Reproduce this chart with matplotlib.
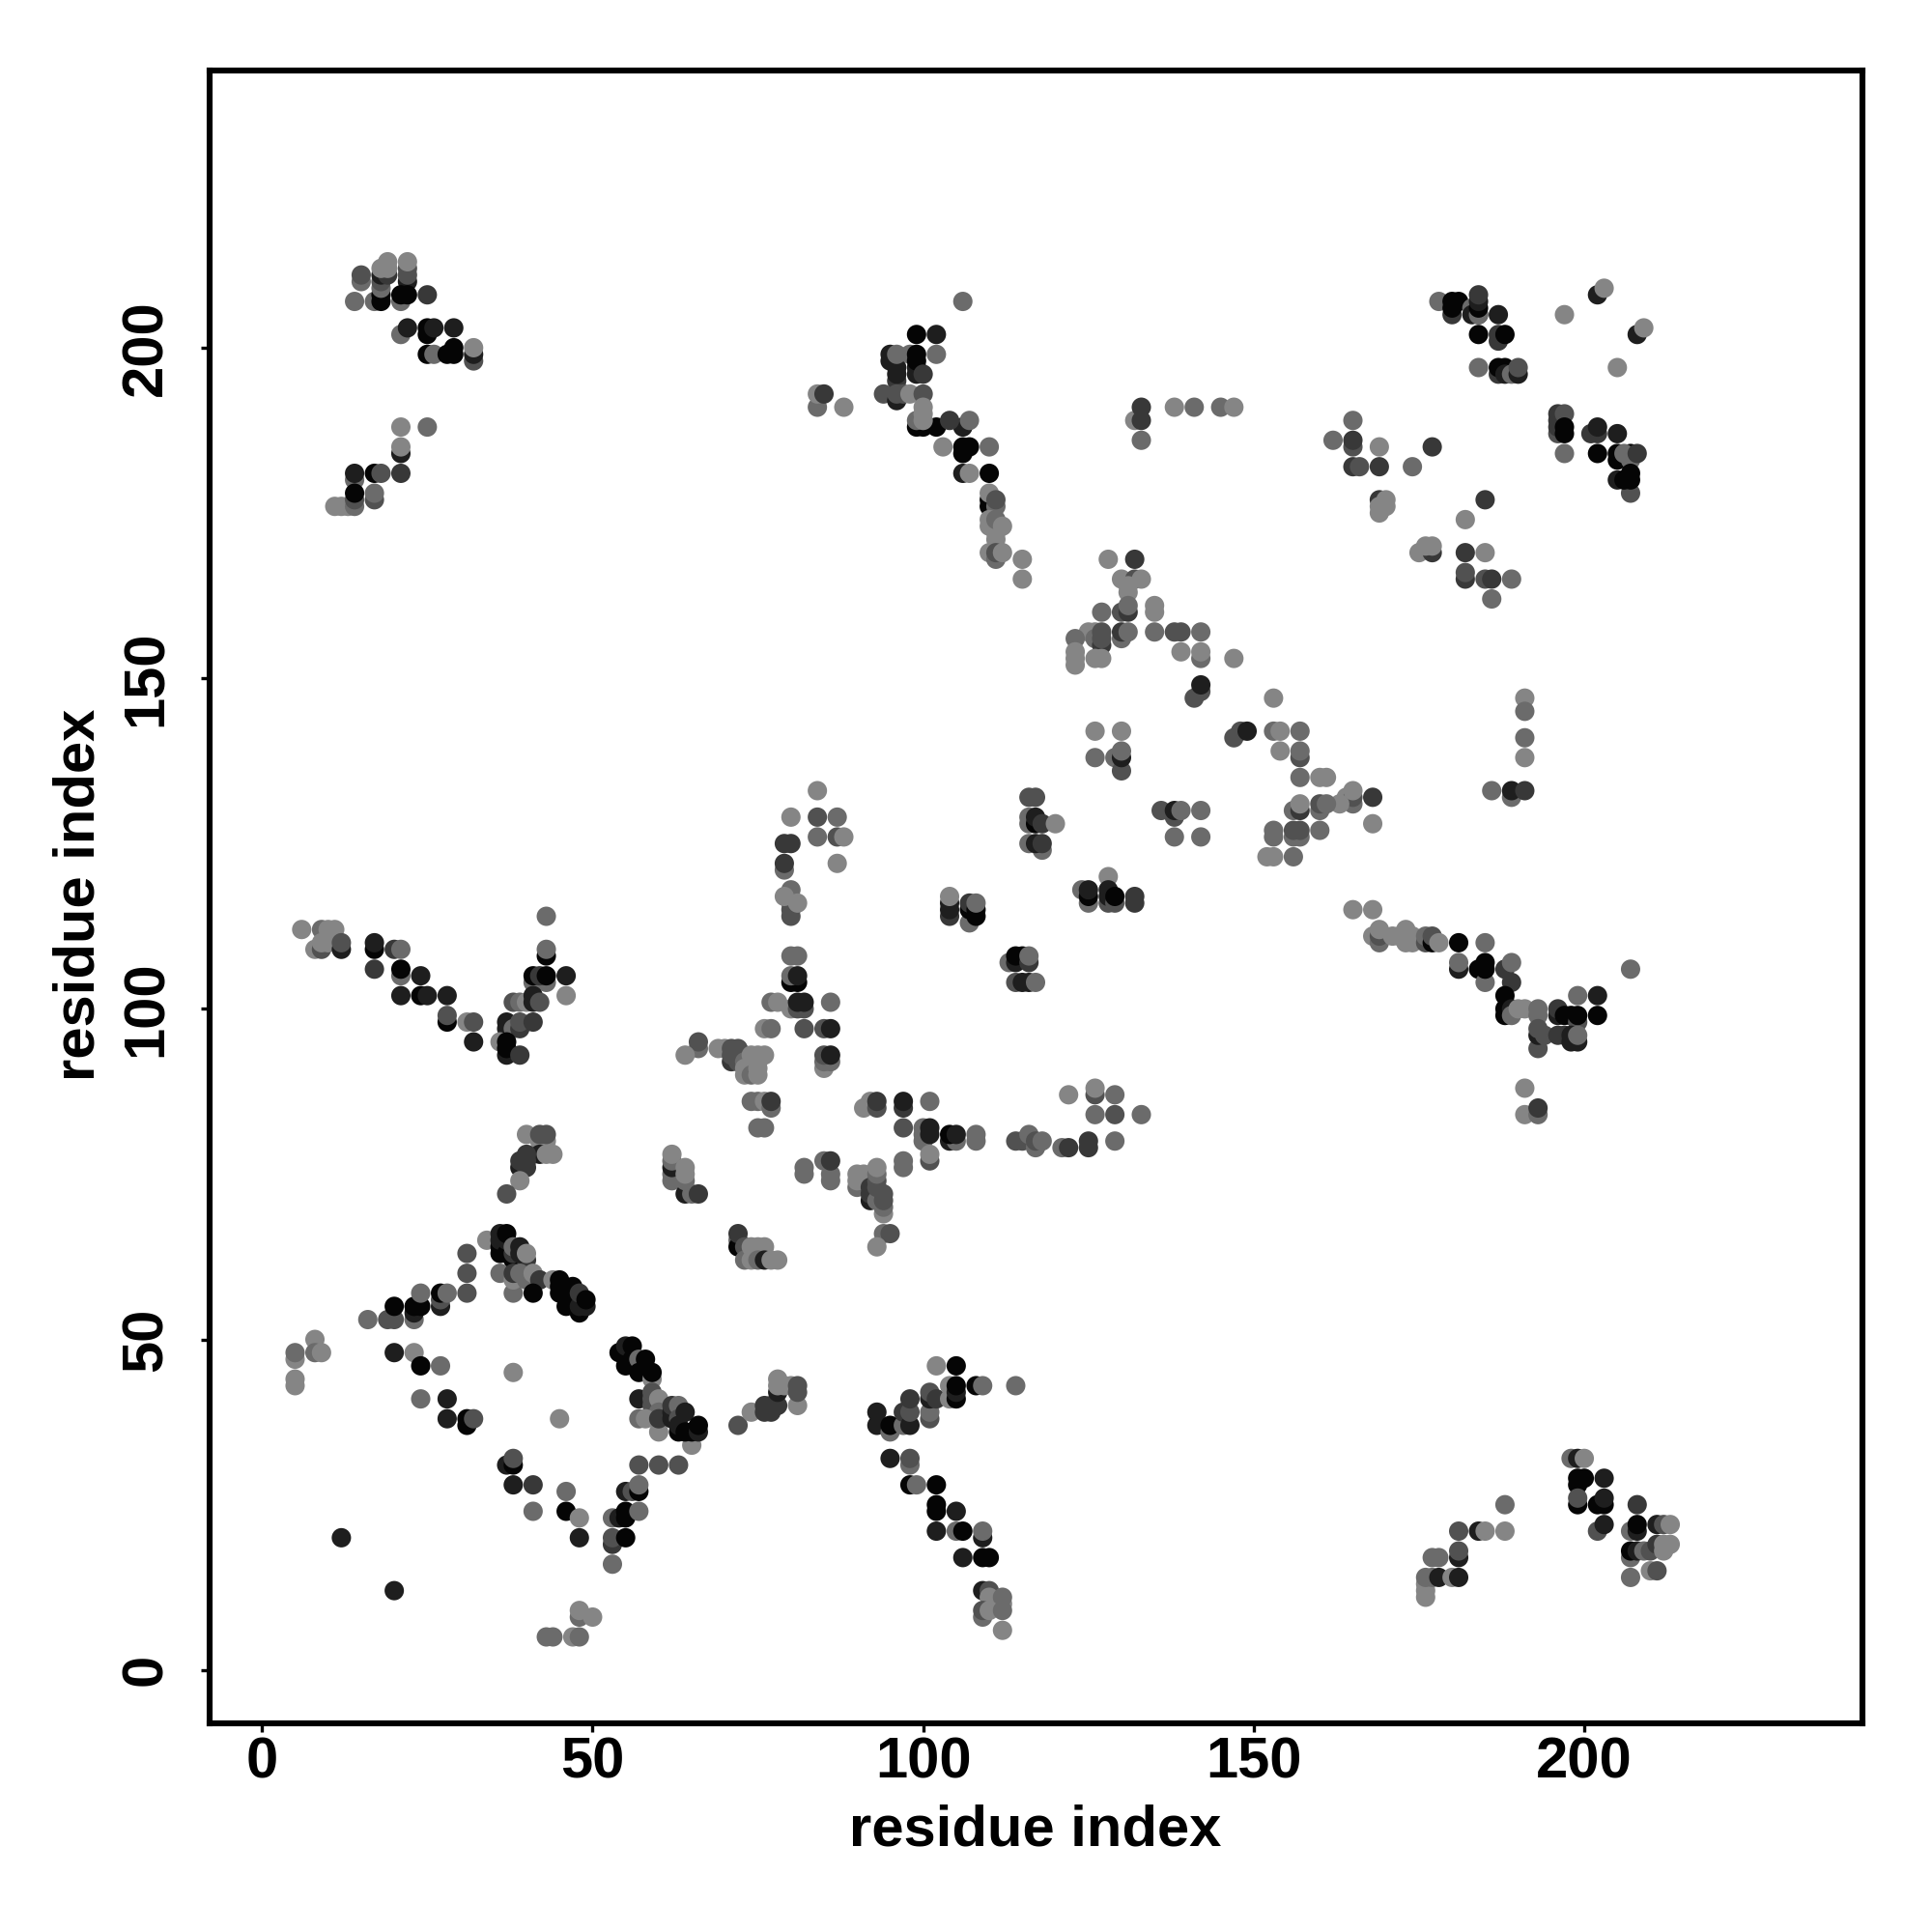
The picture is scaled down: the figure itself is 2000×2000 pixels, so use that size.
import matplotlib
matplotlib.use("Agg")
import matplotlib.pyplot as plt
from matplotlib.colors import Normalize

plt.rcParams['font.family'] = ['Liberation Sans', 'DejaVu Sans']

# each contact: (residue i, residue j, score level 0 = strongest ... 5 = weakest)
top_left = [(15,210,4),(15,211,3),(14,207,4),(17,207,4),(18,207,0),(18,208,0),(18,209,4),(18,210,3),(18,211,1),
 (19,211,2),(18,212,5),(19,212,5),(19,213,5),(22,210,1),(22,211,3),(22,212,3),(22,213,5),(21,207,4),(21,208,0),(22,208,0),(25,208,2),
 (21,202,4),(22,203,1),(25,202,0),(25,203,0),(26,203,1),(29,203,1),(25,199,0),(26,199,4),(28,199,0),(29,199,0),(29,200,0),
 (32,198,3),(32,199,1),(32,200,5),(21,188,5),(25,188,4),(21,184,1),(21,185,5),(14,180,4),(14,181,1),(17,181,0),(18,181,3),(21,181,2),
 (11,176,5),(12,176,5),(13,176,5),(14,176,4),(14,177,3),(14,178,0),(17,177,3),(17,178,4)]

top_mid = [(84,191,4),(84,193,5),(85,193,2),(88,191,5),(106,207,4),(99,202,0),(102,202,1),(102,199,4),
 (95,198,1),(95,199,1),(96,195,2),(96,196,1),(96,197,1),(96,199,4),(98,199,4),(99,196,1),(99,197,1),(99,198,0),(99,199,0),(100,196,2),
 (94,193,3),(96,192,1),(96,193,3),(97,193,3),(98,193,5),(100,193,3),(99,188,0),(100,188,0),(102,188,0),(99,189,4),(100,189,5),(100,190,5),(100,191,5),
 (106,188,1),(104,189,2),(107,189,4),(103,185,5),(106,184,0),(106,185,0),(107,185,0),(110,185,4),(106,181,1),(107,181,5),(110,181,0),
 (110,176,0),(110,177,0),(110,178,5),(111,176,4),(111,177,3),(110,173,5),(110,174,5),(111,171,5),(111,172,5),(111,173,5),(111,174,4),(112,173,5),
 (110,169,5),(111,168,4),(111,169,3),(112,169,5),(115,168,5),(115,165,5)]

top_center = [(132,189,5),(133,189,2),(133,191,2),(133,186,4),(138,191,5),(141,191,4),(145,191,4),(147,191,5),
 (128,168,5),(132,168,2),(130,165,5),(132,165,3),(131,164,5),(131,163,5),(133,165,5),(127,160,4),(130,160,3),(131,160,2),(131,161,4),(135,160,5),(135,161,5),
 (125,157,5),(126,157,5),(126,156,4),(127,155,2),(127,156,3),(127,157,3),(130,156,4),(130,157,2),(131,157,4),(135,157,4),(138,157,3),(139,157,3),(142,157,4),
 (123,156,4),(123,152,5),(123,153,5),(123,154,5),(126,153,5),(127,153,5),(139,154,5),(142,153,4),(142,154,5),(147,153,5),(141,147,3),(142,148,3),(142,149,1)]

mid_right = [(153,147,5),(147,141,3),(148,142,3),(149,142,1),(153,142,4),(154,142,5),(157,142,4),(154,139,5),(157,138,3),(157,139,4),
 (157,135,4),(160,135,5),(161,135,5),(164,132,5),(165,131,4),(165,132,3),(165,133,5),(168,132,2),(163,131,5),
 (156,130,4),(157,130,2),(157,131,5),(160,130,4),(160,131,3),(161,131,4),(168,128,5),(160,127,4),
 (156,126,4),(157,126,4),(156,127,3),(157,127,3),(153,126,4),(153,127,4),(152,123,5),(153,123,5),(156,123,4),
 (126,142,5),(130,142,5),(126,138,4),(129,138,4),(130,136,3),(130,138,1),(130,139,4),
 (191,147,5),(191,145,4),(191,141,4),(191,138,5),(186,133,4),(189,132,4),(189,133,1),(191,133,2),
 (136,130,3),(138,129,3),(138,130,1),(139,130,4),(142,130,4),(138,126,4),(142,126,4)]

mid_helix = [(124,118,4),(125,116,4),(125,117,0),(125,118,1),(128,120,5),(128,116,3),(128,117,1),(128,118,1),(129,116,3),(129,117,0),(132,116,2),(132,117,2),
 (116,132,3),(117,132,3),(116,128,4),(116,129,4),(117,128,0),(117,129,1),(118,128,2),(120,128,5),(118,124,4),(116,125,4),(117,125,1),(118,125,2),
 (113,107,4),(114,107,1),(114,108,0),(115,108,0),(116,107,2),(116,108,4),(114,104,3),(115,104,1),(116,104,1),(117,104,4),
 (104,114,2),(104,115,1),(104,116,1),(104,117,5),(107,113,4),(107,115,0),(107,116,2),(108,114,0),(108,115,0),(108,116,4)]

upper_right = [(178,207,4),(180,205,2),(180,206,0),(180,207,0),(181,207,0),(183,206,4),(183,205,1),(184,205,1),(184,205,4),(184,206,0),(184,207,1),(184,208,2),(187,205,1),
 (184,202,0),(187,201,2),(187,202,2),(188,202,0),(184,197,4),(187,196,2),(187,197,0),(188,197,0),(188,196,1),(189,196,4),(190,196,1),(190,197,3),
 (202,208,1),(203,209,5),(197,205,5),(208,202,1),(209,203,5),(205,197,5),(196,187,3),(196,188,2),(196,189,2),(196,190,2),(197,190,3),(197,187,0),(197,188,0),(197,184,4),
 (201,187,2),(202,187,2),(202,188,1),(205,187,1),(202,184,0),(205,183,0),(205,184,0),(207,184,0),(207,183,4),(206,184,4),(208,184,2),
 (207,178,3),(205,180,1),(206,180,0),(207,180,0),(207,181,0)]

upper_side = [(165,189,4),(162,186,4),(165,185,3),(165,186,2),(169,185,5),(177,185,2),(165,182,2),(166,182,3),(169,182,2),(174,182,4),
 (169,175,5),(169,177,2),(169,176,5),(170,176,5),(170,177,5),(185,177,2),(182,174,5),(175,169,5),(177,169,2),(176,170,5),(177,170,5),(182,169,2),(185,169,5),
 (182,165,2),(182,166,3),(185,165,3),(186,165,2),(189,165,4),(186,162,4)]

left_arm = [(6,112,5),(9,112,4),(10,112,5),(11,112,5),(8,109,5),(9,109,3),(9,110,5),(10,110,5),(12,109,1),(12,110,3),(17,109,0),(17,110,1),(20,109,2),(21,109,4),
 (17,106,2),(21,105,4),(21,106,0),(24,105,1),(21,102,1),(24,102,0),(25,102,1),(28,102,1),(28,98,0),(28,99,3),(31,98,5),(32,98,3),(32,95,1),
 (43,114,4),(43,108,0),(43,109,4),(41,104,4),(43,104,4),(41,105,0),(42,105,2),(43,105,0),(46,105,1),(46,102,5),
 (38,101,3),(39,101,4),(40,101,5),(41,102,1),(41,101,1),(42,101,3),(37,97,1),(37,98,1),(38,97,4),(39,97,2),(39,98,3),(41,98,2),
 (36,95,5),(37,93,1),(37,94,0),(37,95,0),(39,93,2)]

left_low = [(40,81,5),(42,80,5),(43,80,5),(42,81,3),(43,81,3),(42,78,1),(43,78,5),(44,78,5),(39,76,1),(40,76,2),(39,77,2),(40,77,2),(40,78,2),(39,74,5),(37,72,3),
 (62,74,4),(62,75,4),(62,76,1),(62,77,4),(62,78,5),(64,72,1),(64,74,4),(64,75,5),(64,76,5),(65,72,4),(66,72,2)]

mid_left = [(84,133,5),(80,129,5),(84,129,3),(87,129,4),(84,126,4),(87,126,3),(88,126,5),(87,122,5),(79,125,2),(80,125,2),(79,121,4),(79,122,2),
 (80,114,3),(80,115,3),(80,116,3),(80,118,4),(79,117,5),(81,116,5),(80,108,4),(81,108,4),(80,104,0),(81,104,0),(80,105,4),(81,105,1),
 (77,101,4),(78,101,5),(80,100,5),(81,100,3),(82,100,3),(81,101,1),(82,101,1),(86,101,4),(76,97,5),(77,97,4),(82,97,3),(85,97,3),(86,97,1),
 (66,94,4),(66,95,3),(64,93,5),(69,94,5),(70,94,5),(71,92,2),(72,92,3),(71,93,3),(71,94,3),(72,93,3),(72,94,3),(73,93,3),(73,92,4),(73,91,5),(73,90,5),
 (74,90,4),(74,93,5),(75,90,5),(75,91,5),(75,92,5),(75,93,5),(76,93,5),(85,91,5),(85,92,4),(86,92,4),(85,93,3),(86,93,1),
 (74,86,4),(75,86,4),(76,86,5),(77,85,4),(77,86,2),(75,82,4),(76,82,4)]

mid_center = [(91,85,5),(92,86,5),(93,85,3),(93,86,2),(97,85,2),(97,86,1),(101,86,4),(97,82,3),(100,80,4),(100,81,4),(100,82,4),(101,81,1),(101,82,1),
 (104,80,1),(105,80,4),(104,81,0),(105,81,1),(108,80,4),(108,81,4),(101,77,3),(101,78,5),(97,76,4),(97,77,4),
 (114,80,3),(115,80,3),(117,79,4),(116,81,4),(117,80,3),(118,80,4),(121,79,4),(122,79,2),(125,79,2),(125,80,2),(129,80,4),
 (122,87,5),(126,87,3),(126,88,5),(126,84,4),(129,87,4),(129,84,3),(133,84,4),
 (82,75,4),(82,76,4),(85,77,4),(86,74,4),(86,75,4),(86,77,2),(90,73,4),(90,74,5),(90,75,5),(91,74,5),(91,75,5),
 (92,71,1),(92,72,2),(92,73,2),(93,71,4),(93,73,3),(93,74,3),(93,75,4),(93,76,5),(94,69,5),(94,70,4),(94,71,3),(94,72,3),(94,66,4),(95,66,3),(93,64,5)]

right_arm = [(165,115,5),(168,115,5),(168,111,5),(169,110,4),(169,111,3),(169,112,5),(171,111,5),(172,111,5),(173,110,5),(173,111,5),(173,112,5),(174,110,5),(174,111,5),
 (176,110,3),(176,111,4),(177,110,0),(177,111,3),(178,110,5),(181,110,0),(185,110,4),(181,106,1),(181,107,4),(184,106,0),(185,104,4),(185,106,0),(185,107,0),
 (188,106,2),(189,107,4),(189,104,2),(188,102,0),(188,99,0),(188,100,0),(189,100,1),(189,99,4),(190,100,5),(191,100,5),(193,99,4),(193,100,4),
 (196,99,1),(196,100,2),(197,99,0),(198,99,0),(199,98,3),(199,99,0),(202,99,0),(202,102,1),(199,102,4),
 (193,94,3),(193,96,1),(193,97,3),(194,96,3),(196,96,2),(197,96,2),(198,95,1),(198,96,1),(199,95,1),(199,96,4),(207,106,4),(191,88,5),(191,84,5),(193,84,4),(193,85,2)]

ring_upper = [(16,53,4),(19,53,3),(20,53,3),(20,55,0),(23,53,4),(23,54,1),(23,55,0),(24,55,0),(24,57,4),(27,55,1),(27,56,3),(27,57,0),(28,57,4),(31,57,3),(31,60,3),(31,63,3),(34,65,5),
 (36,63,0),(36,64,0),(36,65,1),(36,66,1),(37,63,0),(37,65,1),(37,66,0),(38,62,0),(39,62,0),(40,62,2),(38,63,2),(38,64,4),(39,63,1),(39,64,1),(40,63,5),
 (36,60,4),(38,57,4),(38,59,5),(38,60,2),(39,60,4),(40,59,4),(41,59,4),(41,60,5),(42,59,2),(41,57,0),(44,59,5),
 (45,57,0),(45,58,0),(45,59,0),(46,55,0),(46,57,0),(47,58,0),(48,54,0),(48,55,1),(48,57,2),(49,55,1),(49,56,0)]

ring_left = [(8,50,5),(8,48,4),(9,48,5),(5,47,5),(5,48,4),(5,43,5),(5,44,5),(20,48,1),(23,48,5),(24,46,0),(27,46,4),(38,45,5),(24,41,4),(28,41,1),(28,38,1),
 (31,37,0),(31,38,0),(32,38,3),(45,38,5),(37,31,1),(38,31,0),(38,32,3),(38,28,1),(41,28,2),(41,24,4),(46,27,4),(46,24,0),(48,23,5),(48,20,1),(12,20,1),(20,12,1),
 (53,23,4),(54,23,1),(55,23,0),(55,24,0),(57,24,4),(53,19,2),(53,20,3),(55,20,0),(53,16,4),(55,27,1),(56,27,3),(57,27,0),(57,28,4),(57,31,3),(60,31,3),(63,31,3),(65,34,5),
 (48,8,4),(48,9,5),(50,8,5),(43,5,4),(44,5,4),(47,5,5),(48,5,4)]

ring_right = [(54,48,0),(55,48,0),(55,49,1),(56,49,0),(55,46,0),(56,47,0),(57,47,4),(58,47,0),(57,45,0),(59,44,5),(59,45,0),(57,41,1),(59,42,3),(59,41,3),(59,40,3),(60,41,5),(60,39,4),
 (57,38,4),(58,38,5),(60,36,5),(60,38,2),(62,38,1),(62,39,1),(62,40,2),(63,40,4),(63,38,3),(64,39,1),(63,36,0),(63,37,1),(64,36,0),(65,36,0),(66,36,1),(66,37,0),
 (72,65,4),(72,64,0),(72,66,2),(73,64,3),(73,62,4),(74,62,5),(74,64,5),(75,64,5),(76,64,5),(75,62,4),(76,62,1),(77,62,5),(78,62,5)]

low_mid = [(72,37,3),(74,39,5),(76,39,2),(77,39,2),(76,40,2),(77,40,2),(78,40,2),(78,42,1),(78,43,5),(78,44,5),(79,43,5),(80,43,5),(81,40,5),(81,42,3),(81,43,3),
 (93,37,1),(93,39,1),(95,36,4),(95,37,0),(97,37,4),(97,39,2),(98,37,1),(98,39,3),(98,41,2),(101,38,3),(101,39,4),(101,41,1),(101,42,3),(102,41,2),(102,46,5),(105,46,0),
 (104,41,5),(104,43,5),(105,41,0),(105,42,1),(105,43,0),(108,43,0),(109,43,4),(114,43,4),
 (95,32,1),(98,31,4),(98,32,3),(98,28,0),(99,28,4),(102,28,0),(102,24,0),(102,25,0),(105,24,1),(102,21,1),(105,21,4),(106,21,0),(109,20,1),(109,21,4),
 (106,17,1),(109,17,0),(110,17,0),(109,12,1),(110,12,3),(110,11,5),(112,10,5),(112,11,4),(109,8,4),(109,9,3),(110,9,5),(112,9,4),(112,6,5)]

low_right = [(176,11,5),(176,12,5),(176,13,5),(176,14,4),(177,14,4),(178,14,1),(177,17,4),(178,17,4),(181,21,3),(181,17,1),(181,18,3),(180,14,5),(181,14,1),(184,21,1),(185,21,5),(188,25,4),(188,21,5),
 (198,32,4),(199,32,1),(200,32,5),(199,28,0),(199,29,0),(200,29,0),(203,29,1),(199,25,0),(199,26,3),(202,25,0),(203,25,0),(203,26,1),(202,21,3),(203,22,1),
 (208,25,2),(207,21,4),(208,21,1),(208,22,0),(211,22,1),(212,22,3),(213,22,5),(207,17,4),(207,18,0),(208,18,1),(209,18,4),(210,18,3),(211,19,2),(212,18,5),(212,19,5),(213,19,5),
 (210,15,5),(211,15,3),(207,14,4)]

clusters = [top_left, top_mid, top_center, mid_right, mid_helix, upper_right, upper_side, left_arm, left_low,
            mid_left, mid_center, right_arm, ring_upper, ring_left, ring_right, low_mid, low_right]
x_ticks = [0, 50, 100, 150, 200]
y_ticks = [0, 50, 100, 150, 200]
axis_label = "residue index"

fig = plt.figure(figsize=(10, 10), dpi=200)
ax = fig.add_axes([216.5/2000, 1 - 1783.5/2000, 1711/2000, 1711/2000])

norm = Normalize(vmin=-0.2, vmax=9.8)
for cluster in clusters:
    xs = [c[0] for c in cluster]
    ys = [c[1] for c in cluster]
    ss = [c[2] for c in cluster]
    ax.scatter(xs, ys, c=ss, cmap='gray', norm=norm, s=52, linewidths=0, zorder=3)

ax.set_xlim(-8, 242)
ax.set_ylim(-8, 242)
ax.set_xticks(x_ticks)
ax.set_yticks(y_ticks)
for lab in ax.get_xticklabels():
    lab.set_fontsize(21.5); lab.set_fontweight('bold')
for lab in ax.get_yticklabels():
    lab.set_fontsize(21.5); lab.set_fontweight('bold'); lab.set_rotation(90); lab.set_va('center')
ax.tick_params(axis='x', length=3.4, width=1.2, pad=1.5)
ax.tick_params(axis='y', length=3.4, width=1.2, pad=10)
ax.set_xlabel(axis_label, fontsize=21.5, fontweight='bold', va='center')
ax.set_ylabel(axis_label, fontsize=21.5, fontweight='bold', va='center')
ax.xaxis.set_label_coords(0.4997, -0.0652)
ax.yaxis.set_label_coords(-0.0785, 0.501)
for sp in ax.spines.values():
    sp.set_linewidth(2.2)
    sp.set_capstyle('projecting')
fig.savefig("out.png", dpi=200)
